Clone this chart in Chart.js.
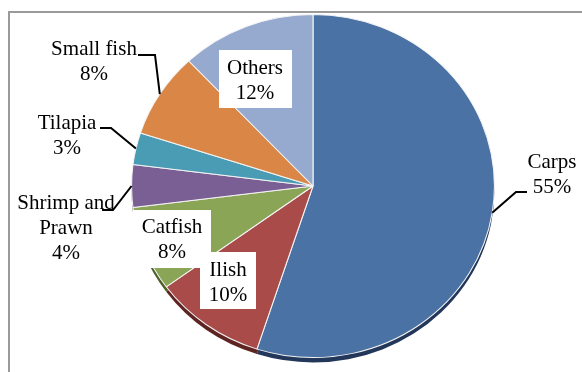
<!DOCTYPE html>
<html>
<head>
<meta charset="utf-8">
<script src="https://cdn.jsdelivr.net/npm/chart.js@4.4.1/dist/chart.umd.min.js"></script>
<style>
  html, body { margin: 0; padding: 0; background: #fff; }
  #wrap { position: relative; width: 582px; height: 372px; overflow: hidden; }
  #frame { position: absolute; left: 8px; top: 11px; width: 600px; height: 400px;
           border-left: 2px solid #9a9a9a; border-top: 2px solid #9a9a9a; }
  canvas { position: absolute; left: 0; top: 0; }
</style>
</head>
<body>
<div id="wrap">
  <div id="frame"></div>
  <canvas id="pie" width="582" height="372"></canvas>
</div>
<script>
// --- Data ---
const categories = ['Carps', 'Ilish', 'Catfish', 'Shrimp and Prawn', 'Tilapia', 'Small fish', 'Others'];
const shares = [55, 10, 8, 4, 3, 8, 12];
const sliceColors = ['#4a72a5', '#a84b49', '#8aa556', '#7a5f95', '#4a9bb4', '#da8646', '#95aace'];
const sideColors = ['#22375a', '#5e2422', '#4f6128', '#40305a', '#245b6b', '#7a4218', '#56698a'];

// label layout: text lines, text centre, and for outside labels the leader path
const FONT = '21px "Liberation Serif", "Times New Roman", serif';
const labelLayout = [
    { lines: ['Carps', '55%'], x: 552, y: 162, leader: [[527, 192], [516, 192]] },
    { lines: ['Ilish', '10%'], x: 228, y: 270, box: [200, 252, 56, 57] },
    { lines: ['Catfish', '8%'], x: 172, y: 227, box: [133, 210, 78, 58] },
    { lines: ['Shrimp and', 'Prawn', '4%'], x: 66, y: 203, leader: [[102, 210], [113, 210]] },
    { lines: ['Tilapia', '3%'], x: 67, y: 123, leader: [[100, 128], [111, 128]] },
    { lines: ['Small fish', '8%'], x: 94, y: 49, leader: [[138, 55], [155, 55]] },
    { lines: ['Others', '12%'], x: 255, y: 68, box: [219, 50, 73, 58] }
];
const SX = 1.058; // horizontal stretch of the tilted pie

function arcInfo(chart) {
    const arc = chart.getDatasetMeta(0).data[0];
    return { cx: arc.x, cy: arc.y, r: arc.outerRadius };
}

const ellipsePlugin = {
    id: 'ellipse',
    beforeDatasetsDraw(chart) {
        const ctx = chart.ctx;
        const { cx, cy, r } = arcInfo(chart);
        ctx.save();
        ctx.translate(cx, cy);
        ctx.scale(SX, 1);
        ctx.translate(-cx, -cy);
        // side of the tilted pie, one darker copy per slice
        chart.getDatasetMeta(0).data.forEach((a, i) => {
            ctx.beginPath();
            ctx.moveTo(cx, cy + 5);
            ctx.arc(cx, cy + 5, r, a.startAngle, a.endAngle);
            ctx.closePath();
            ctx.fillStyle = sideColors[i];
            ctx.fill();
        });
    },
    afterDatasetsDraw(chart) {
        chart.ctx.restore();
    }
};

const labelPlugin = {
    id: 'sliceLabels',
    afterDraw(chart) {
        const ctx = chart.ctx;
        const { cx, cy, r } = arcInfo(chart);
        const arcs = chart.getDatasetMeta(0).data;
        ctx.save();
        ctx.font = FONT;
        ctx.textAlign = 'center';
        ctx.textBaseline = 'middle';
        labelLayout.forEach((lab, i) => {
            if (lab.box) {
                ctx.fillStyle = '#fff';
                ctx.fillRect(lab.box[0], lab.box[1], lab.box[2], lab.box[3]);
            }
            if (lab.leader) {
                const a = arcs[i];
                const mid = (a.startAngle + a.endAngle) / 2;
                const px = cx + Math.cos(mid) * r * SX;
                const py = cy + Math.sin(mid) * r;
                ctx.beginPath();
                ctx.moveTo(lab.leader[0][0], lab.leader[0][1]);
                ctx.lineTo(lab.leader[1][0], lab.leader[1][1]);
                ctx.lineTo(px, py);
                ctx.strokeStyle = '#000';
                ctx.lineWidth = 2;
                ctx.stroke();
            }
            ctx.fillStyle = '#000';
            lab.lines.forEach((t, k) => ctx.fillText(t, lab.x, lab.y + k * 25));
        });
        ctx.restore();
    }
};

new Chart(document.getElementById('pie'), {
    type: 'pie',
    data: {
        labels: categories,
        datasets: [{ data: shares, backgroundColor: sliceColors, borderColor: '#f4f4f4', borderWidth: 1 }]
    },
    options: {
        responsive: false,
        animation: false,
        rotation: 0,
        layout: { padding: { left: 141, right: 97, top: 14, bottom: 14 } },
        plugins: { legend: { display: false }, tooltip: { enabled: false } }
    },
    plugins: [ellipsePlugin, labelPlugin]
});
</script>
</body>
</html>
